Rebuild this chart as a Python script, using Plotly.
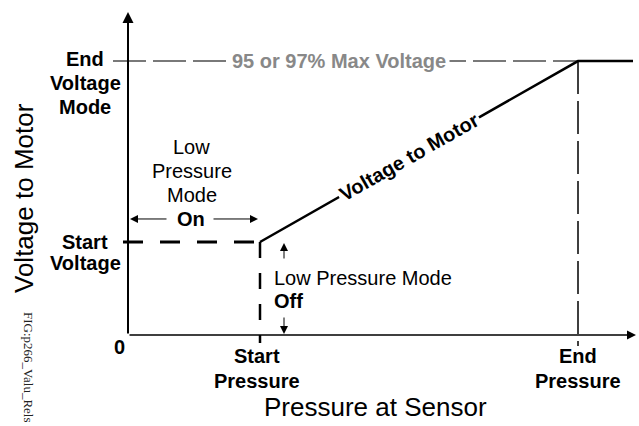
import math
import plotly.graph_objects as go

# ---- data (abstract units) ----
pressure = [2.64, 9.0, 10.1]      # start pressure, end pressure, beyond end
voltage = [2.88, 8.48, 8.48]      # start voltage, end voltage (max), held
pressure_ticks = ["Start", "End"]
max_label = "95 or 97% Max Voltage"
curve_label = "Voltage to Motor"

start_pressure, end_pressure = pressure[0], pressure[1]
start_voltage, end_voltage = voltage[0], voltage[1]

# ---- layout geometry ----
W, H = 639, 426
OX, OY = 128, 335          # pixel position of the origin
XPU, YPU = 50.0, 32.3      # pixels per unit


def dx(px):
    return (px - OX) / XPU


def dy(py):
    return (OY - py) / YPU


FONT = "Liberation Sans, Arial, sans-serif"
fig = go.Figure()

thin_dash = "33px,7px"
# max-voltage reference line
fig.add_trace(go.Scatter(x=[dx(113), end_pressure], y=[end_voltage, end_voltage], mode="lines",
                         line=dict(color="#4d4d4d", width=1.5, dash=thin_dash), hoverinfo="skip"))
# start-voltage dashed
fig.add_trace(go.Scatter(x=[dx(123), start_pressure], y=[start_voltage, start_voltage], mode="lines",
                         line=dict(color="black", width=3, dash="20px,17px"), hoverinfo="skip"))
# start-pressure vertical dashed
fig.add_trace(go.Scatter(x=[start_pressure, start_pressure], y=[start_voltage, dy(343)], mode="lines",
                         line=dict(color="black", width=2.5, dash="16px,15px"), hoverinfo="skip"))
# end-pressure vertical dashed
fig.add_trace(go.Scatter(x=[end_pressure, end_pressure], y=[end_voltage, dy(346)], mode="lines",
                         line=dict(color="black", width=1.5, dash=thin_dash), hoverinfo="skip"))
# voltage curve
fig.add_trace(go.Scatter(x=pressure, y=voltage, mode="lines",
                         line=dict(color="black", width=2.5), hoverinfo="skip"))

ann = []


def arrow(x, y, ax, ay, width=1.0, size=1.6):
    ann.append(dict(x=x, y=y, ax=ax, ay=ay, xref="x", yref="y", axref="x", ayref="y",
                    text="", showarrow=True, arrowhead=2, arrowsize=size,
                    arrowwidth=width, arrowcolor="black", standoff=0))


def text(t, x, y, size=20, bold=False, color="black", xanchor="center", angle=0,
         family=FONT, bg=None, pad=1, xshift=0, yshift=0):
    d = dict(x=x, y=y, xref="x", yref="y", text=("<b>%s</b>" % t) if bold else t,
             showarrow=False, xanchor=xanchor, yanchor="middle", textangle=angle,
             font=dict(family=family, size=size, color=color), borderpad=pad,
             xshift=xshift, yshift=yshift)
    if bg:
        d["bgcolor"] = bg
    ann.append(d)


# axes with arrows
arrow(0, dy(12), 0, 0, width=2, size=1.1)
arrow(dx(636), 0, 0, 0, width=1.5, size=1.2)

# Low pressure mode On arrows
y_on = start_voltage + (242 - 219) / YPU
arrow(0.04, y_on, dx(168), y_on)
arrow(start_pressure - 0.04, y_on, dx(212), y_on)
# Low pressure mode Off arrows
x_off = start_pressure + 24 / XPU
arrow(x_off, start_voltage - 0.03, x_off, dy(260))
arrow(x_off, 0.03, x_off, dy(316))

# left labels
cx = dx(85)
text("End", cx, end_voltage, bold=True, yshift=2)
text("Voltage", cx, end_voltage, bold=True, yshift=-22)
text("Mode", cx, end_voltage, bold=True, yshift=-46)
text("Start", cx, start_voltage, bold=True, yshift=0)
text("Voltage", cx, start_voltage, bold=True, yshift=-21)
text("0", 0, 0, bold=True, xshift=-9, yshift=-12)

# bottom labels
for xv, lab, xs in [(start_pressure, pressure_ticks[0], -3), (end_pressure, pressure_ticks[1], 0)]:
    text(lab, xv, 0, bold=True, xshift=xs, yshift=-21)
    text("Pressure", xv, 0, bold=True, xshift=xs, yshift=-46)

# low pressure mode text
text("Low", dx(191.5), dy(147))
text("Pressure", dx(191.5), dy(171))
text("Mode", dx(191.5), dy(195))
text("On", dx(191), y_on, bold=True, yshift=0)
text("Low Pressure Mode", dx(272), dy(277.5), xanchor="left")
text("Off", dx(272), dy(300.5), bold=True, xanchor="left")

# max voltage label
text(max_label, dx(338.5), end_voltage, bold=True, color="#888888", bg="white", pad=3)

# label along the curve
slope_px = ((end_voltage - start_voltage) * YPU) / ((end_pressure - start_pressure) * XPU)
ang = -math.degrees(math.atan(slope_px))
lx = dx(409)
ly = start_voltage + (lx - start_pressure) * (end_voltage - start_voltage) / (end_pressure - start_pressure)
text(curve_label, lx, ly, bold=True, angle=ang, bg="white", pad=2)

# axis titles
text("Pressure at Sensor", dx(375.5), dy(407), size=26)
text("Voltage to Motor", dx(23.5), dy(198.5), size=26, angle=-90)
text("FIG:p266_Valu_Rels", dx(29), dy(367), size=13, angle=90,
     family="Liberation Serif, Times New Roman, serif", color="#222222")

fig.update_layout(
    width=W, height=H, margin=dict(l=0, r=0, t=0, b=0, pad=0),
    paper_bgcolor="white", plot_bgcolor="white", showlegend=False,
    xaxis=dict(range=[dx(0), dx(W)], visible=False, fixedrange=True),
    yaxis=dict(range=[dy(H), dy(0)], visible=False, fixedrange=True),
    annotations=ann,
)

fig.write_html("out.html", config={"displayModeBar": False},
               post_script="document.body.style.margin='0';")
